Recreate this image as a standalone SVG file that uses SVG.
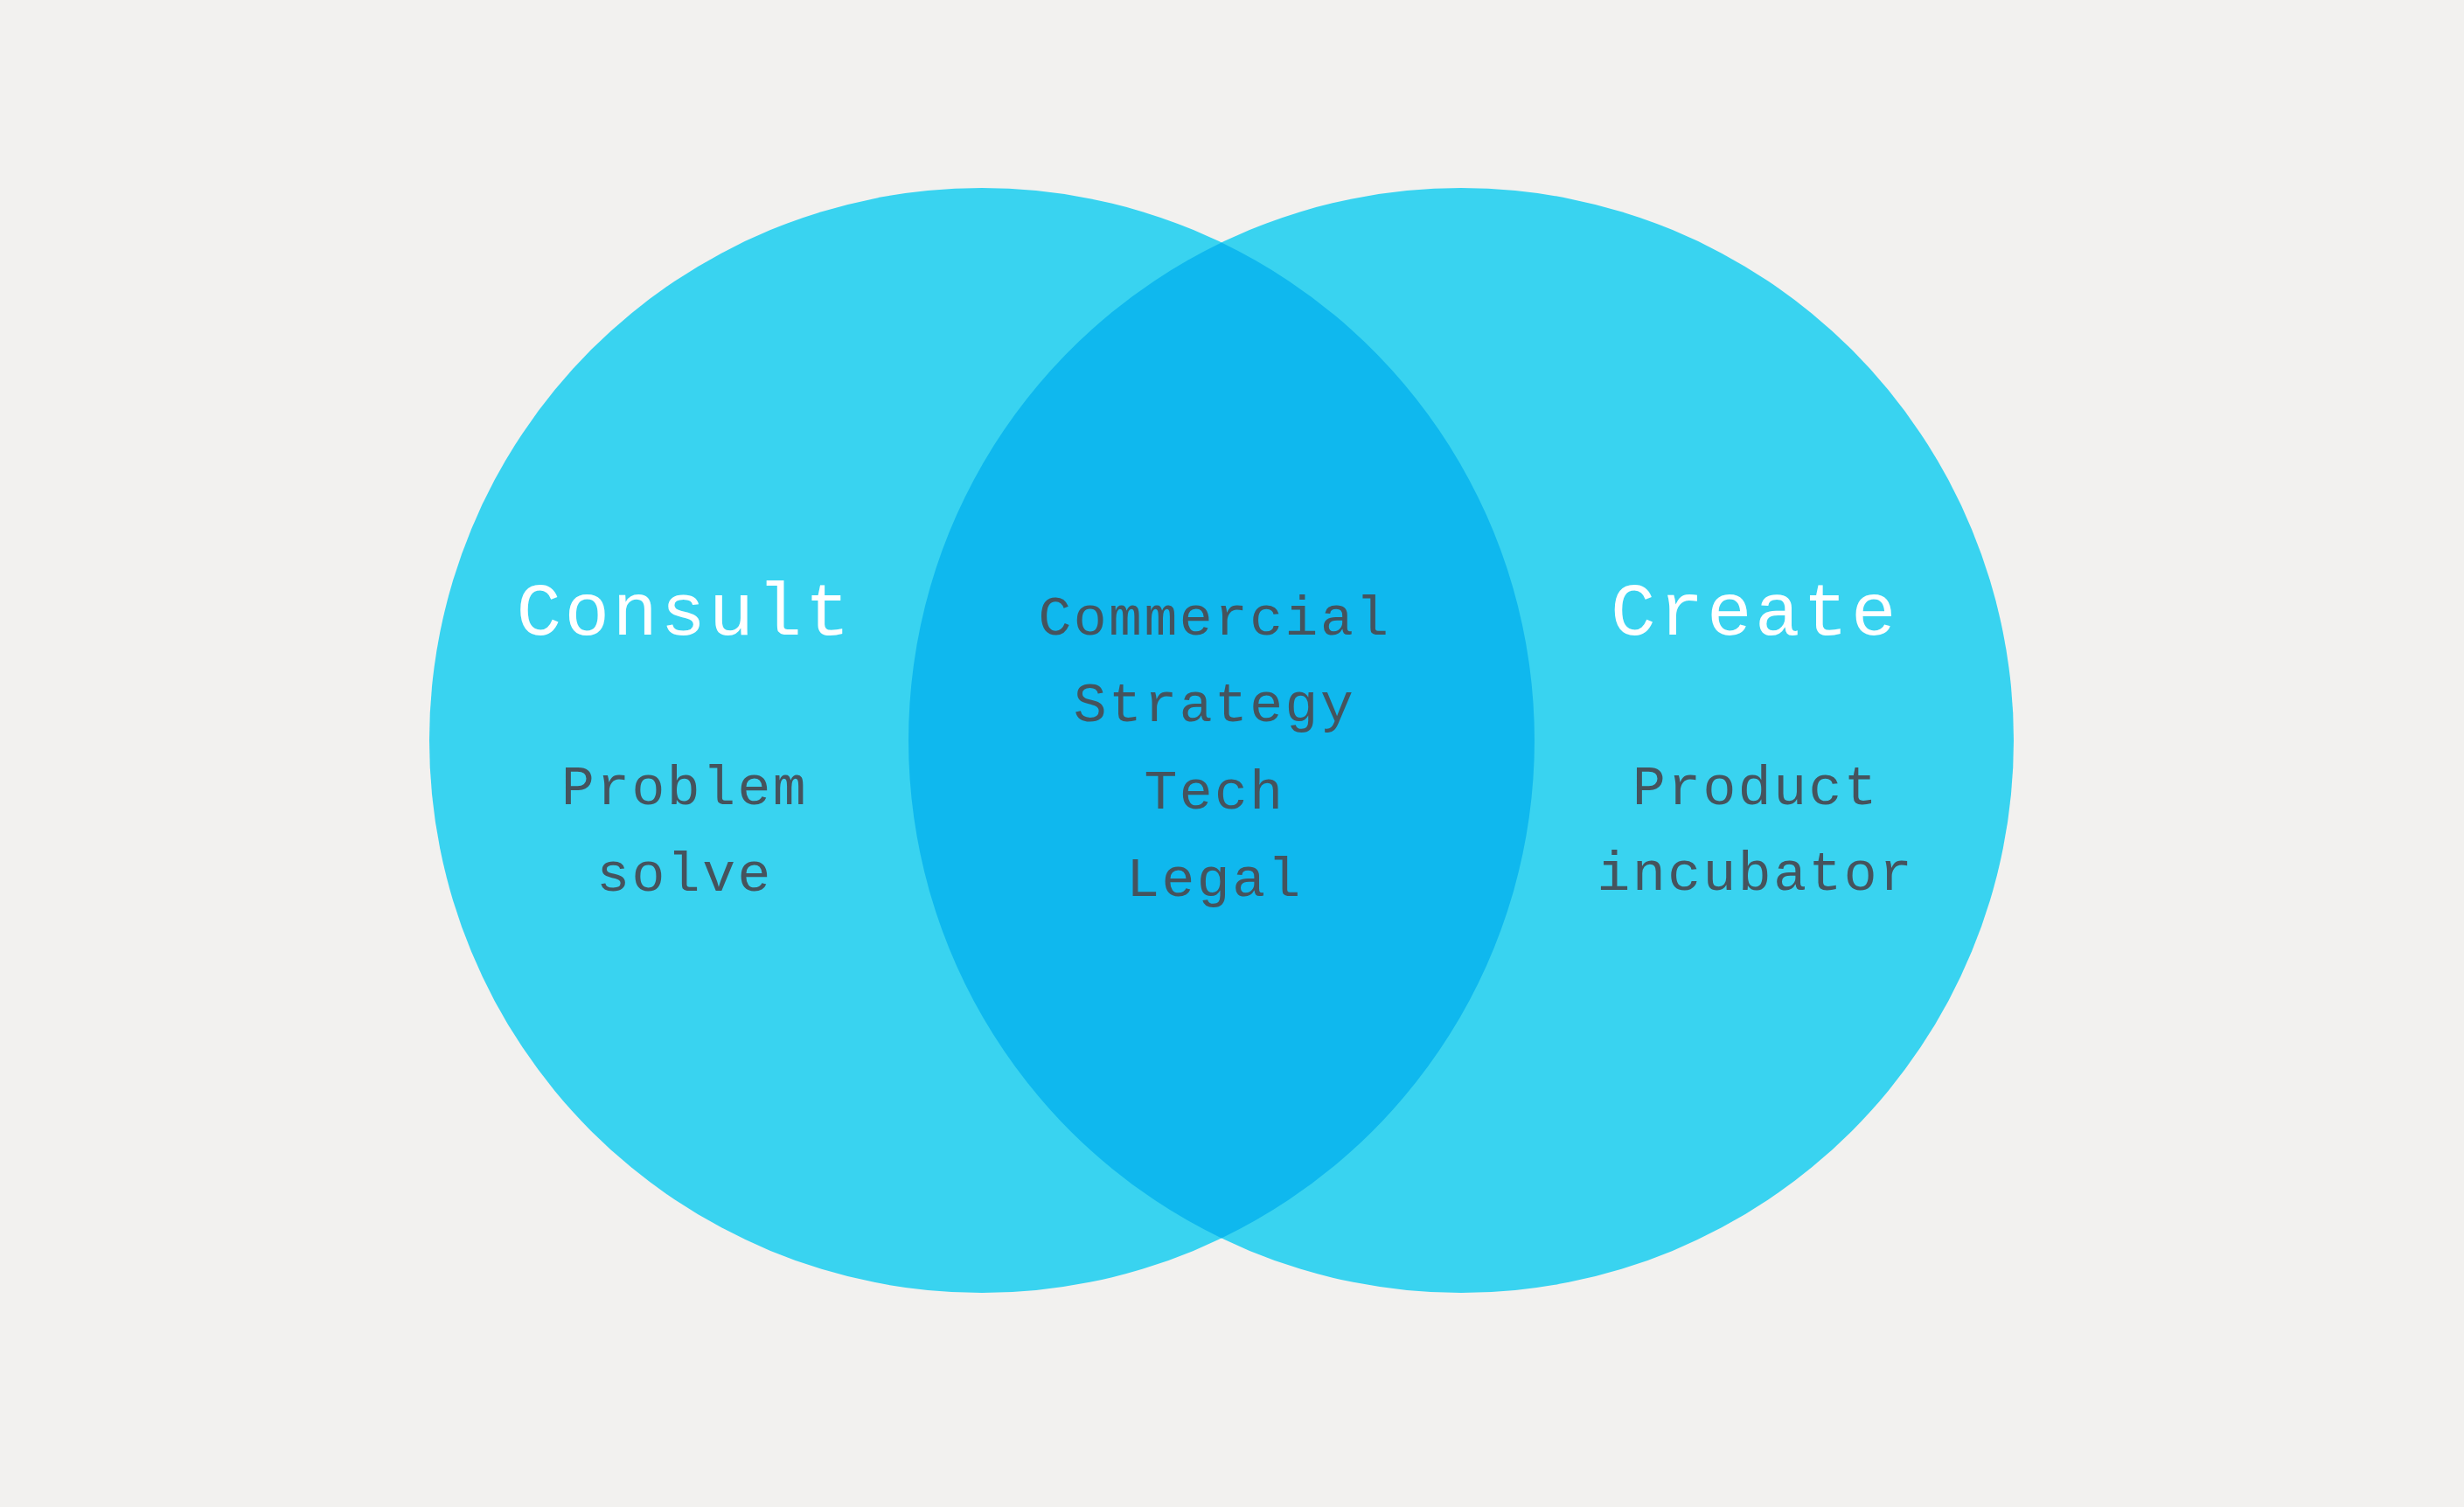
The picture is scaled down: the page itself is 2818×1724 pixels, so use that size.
<svg xmlns="http://www.w3.org/2000/svg" width="2818" height="1724" viewBox="0 0 2818 1724">
  <style>
    .circle { fill: #39D3F0; }
    .overlap { fill: #0FB8EE; }
    .title { font-family: "Liberation Mono", "DejaVu Sans Mono", monospace; font-size: 86px; letter-spacing: 3.4px; fill: #FFFFFF; text-anchor: middle; }
    .body { font-family: "Liberation Mono", "DejaVu Sans Mono", monospace; font-size: 63px; letter-spacing: 2.5px; fill: #45535D; text-anchor: middle; }
  </style>
  <rect x="0" y="0" width="2818" height="1724" fill="#F2F1EF"/>
  <g id="consult">
    <circle class="circle" cx="1123" cy="847" r="632"/>
  </g>
  <g id="create">
    <circle class="circle" cx="1671" cy="847" r="632"/>
  </g>
  <g id="overlap">
    <path class="overlap" d="M1397 277.5 A632 632 0 0 1 1397 1416.5 A632 632 0 0 1 1397 277.5 Z"/>
  </g>
  <g id="consult-labels">
    <text class="title" x="783" y="726">Consult</text>
    <text class="body" x="783" y="920">Problem</text>
    <text class="body" x="783" y="1019">solve</text>
  </g>
  <g id="overlap-labels">
    <text class="body" x="1389" y="726">Commercial</text>
    <text class="body" x="1389" y="825">Strategy</text>
    <text class="body" x="1389" y="925">Tech</text>
    <text class="body" x="1389" y="1025">Legal</text>
  </g>
  <g id="create-labels">
    <text class="title" x="2007" y="726">Create</text>
    <text class="body" x="2008" y="920">Product</text>
    <text class="body" x="2008" y="1018">incubator</text>
  </g>
  <g id="connectors"/>
</svg>
